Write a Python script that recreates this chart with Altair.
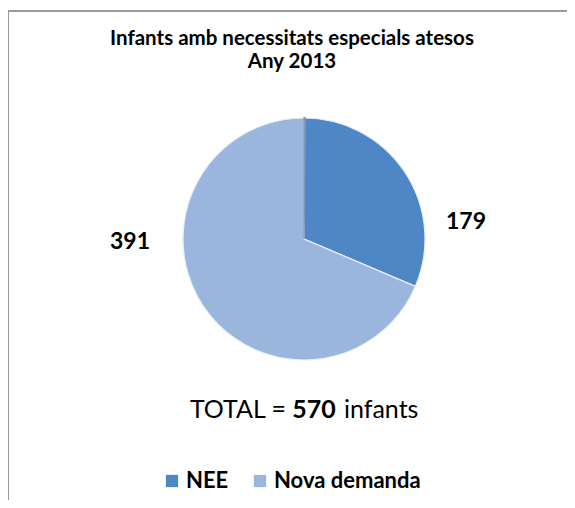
import altair as alt
import pandas as pd

# ---- data ----
categories = ["NEE", "Nova demanda"]
values = [179, 391]
title_lines = ["Infants amb necessitats especials atesos", "Any 2013"]
slice_colors = ["#4F86C6", "#9AB6DC"]

df = pd.DataFrame({"cat": categories, "val": values, "ord": list(range(len(categories)))})

FONT = "Lato"
W, H = 559, 492
CX, CY, R = 296, 231, 121

base = alt.Chart(df)

pie = base.mark_arc(outerRadius=R, stroke="#e8eef7", strokeWidth=1.2).encode(
    theta=alt.Theta("val:Q", stack=True),
    order=alt.Order("ord:Q"),
    color=alt.Color(
        "cat:N",
        scale=alt.Scale(domain=categories, range=slice_colors),
        legend=alt.Legend(
            orient="none", legendX=153, legendY=462, direction="horizontal",
            title=None, symbolType="square", symbolSize=150, symbolStrokeWidth=0,
            labelFont=FONT, labelFontSize=22, labelFontWeight="bold", labelColor="#000000",
            columnPadding=20, labelOffset=3, padding=0,
        ),
    ),
    x=alt.value(CX),
    y=alt.value(CY),
)

rim = alt.Chart(pd.DataFrame({"v": [1]})).mark_arc(
    outerRadius=R, filled=False, stroke="#7f96b5", strokeWidth=1.5
).encode(theta=alt.Theta("v:Q"), x=alt.value(CX), y=alt.value(CY))

def label(cat, x, y):
    return base.transform_filter(alt.datum.cat == cat).mark_text(
        font=FONT, fontSize=23, fontWeight="bold", color="#000000"
    ).encode(text="val:Q", x=alt.value(x), y=alt.value(y))

lab_nee = label("NEE", 458, 214)
lab_nova = label("Nova demanda", 122, 234)

title_df = pd.DataFrame({"t": title_lines, "i": [0, 1]})
def title_line(i, y):
    return alt.Chart(title_df).transform_filter(alt.datum.i == i).mark_text(
        font=FONT, fontSize=20.5, fontWeight="bold", color="#000000", baseline="middle"
    ).encode(text="t:N", x=alt.value(284), y=alt.value(y))

t1 = title_line(0, 31)
t2 = title_line(1, 54)

total_base = base.transform_aggregate(total="sum(val)")
TY = 402
tot_num = total_base.mark_text(
    font=FONT, fontSize=25, fontWeight="bold", color="#000000", align="center", baseline="middle"
).encode(text="total:Q", x=alt.value(306), y=alt.value(TY))
tot_left = total_base.mark_text(
    font=FONT, fontSize=25, color="#000000", align="right", baseline="middle"
).encode(text=alt.value("TOTAL ="), x=alt.value(278), y=alt.value(TY))
tot_right = total_base.mark_text(
    font=FONT, fontSize=25, color="#000000", align="left", baseline="middle"
).encode(text=alt.value("infants"), x=alt.value(336), y=alt.value(TY))

frame_left = alt.Chart(pd.DataFrame({"v": [1]})).mark_rule(color="#9a9a9a", strokeWidth=2).encode(
    x=alt.value(0), y=alt.value(3), y2=alt.value(H + 20)
)
frame_top = alt.Chart(pd.DataFrame({"v": [1]})).mark_rule(color="#9a9a9a", strokeWidth=2).encode(
    x=alt.value(0), x2=alt.value(W + 20), y=alt.value(3)
)

chart = alt.layer(
    frame_left, frame_top, pie, rim, lab_nee, lab_nova, t1, t2, tot_left, tot_num, tot_right
).properties(
    width=W, height=H, autosize=alt.AutoSizeParams(type="none"), padding=0, background="white"
).configure_view(stroke=None)

chart.save("out.html", embed_options={"renderer": "svg", "actions": False})
